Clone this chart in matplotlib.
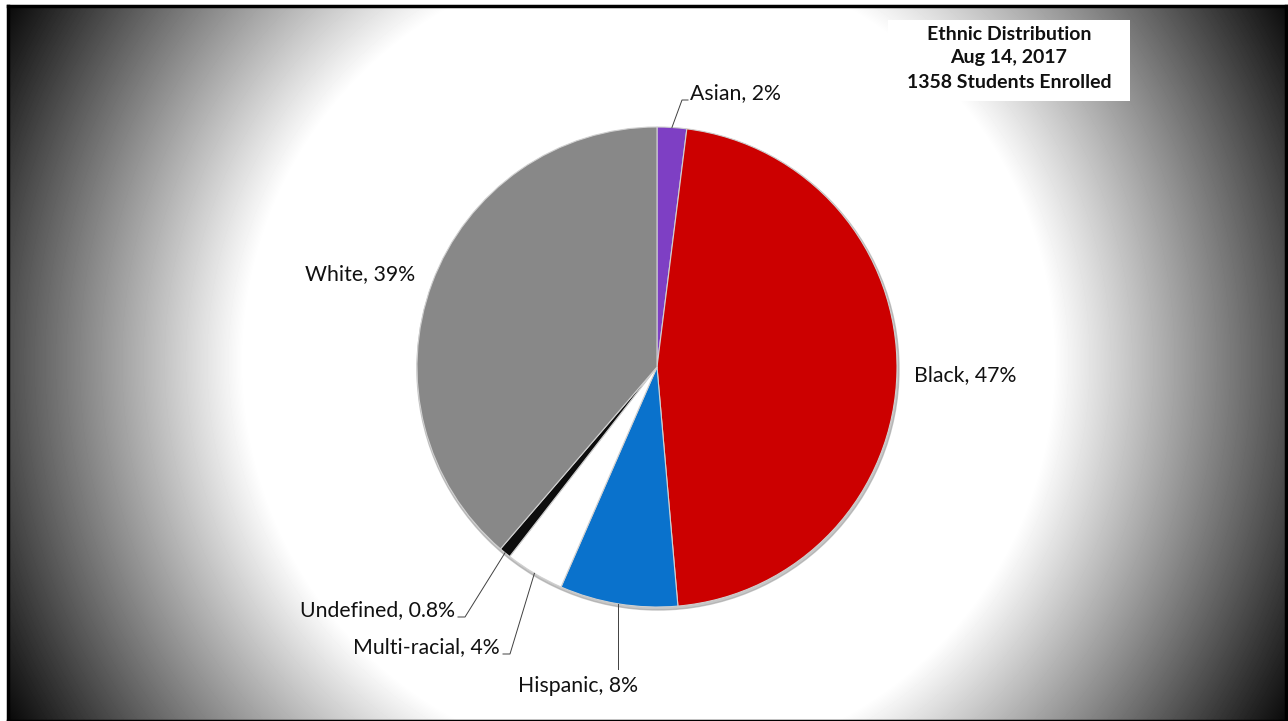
import numpy as np
import matplotlib
matplotlib.use('Agg')
import matplotlib.pyplot as plt
from matplotlib.patches import Rectangle, Circle

# data
groups = ['Asian', 'Black', 'Hispanic', 'Multi-racial', 'Undefined', 'White']
shares = [2, 47, 8, 4, 0.8, 39]
share_labels = ['2%', '47%', '8%', '4%', '0.8%', '39%']
colors = ['#7E3FC4', '#CC0000', '#0A72CC', '#FFFFFF', '#0D0D0D', '#888888']
title_lines = ['Ethnic Distribution', 'Aug 14, 2017', '1358 Students Enrolled']

W, H = 1288, 721
plt.rcParams['font.family'] = ['Lato', 'DejaVu Sans']

fig = plt.figure(figsize=(W / 100, H / 100), dpi=100, facecolor='white')

# radial white-to-black backdrop
bg = fig.add_axes([8 / W, 0, (W - 10) / W, 715 / H])
yy, xx = np.mgrid[0:715, 0:W - 10]
d = np.hypot(xx - 640, yy - 355)
shade = np.clip(1 - (d - 405) / 340.0, 0, 1)
bg.imshow(shade, cmap='gray', vmin=0, vmax=1, aspect='auto', interpolation='bilinear')
bg.set_xticks([]); bg.set_yticks([])
for s in bg.spines.values():
    s.set_linewidth(2.5)
    s.set_color('black')

ax = fig.add_axes([0, 0, 1, 1])

cx, cy, r = 657, 354, 240
# soft shadow behind the pie
ax.add_patch(Circle((cx + 1, cy - 2), r + 1, color='#a0a0a0', alpha=0.6, zorder=1))
wedges, _ = ax.pie(shares, colors=colors, startangle=90, counterclock=False,
                   center=(cx, cy), radius=r, frame=True,
                   wedgeprops=dict(edgecolor='#d0d0d0', linewidth=0.8))
for w in wedges:
    w.set_zorder(2)
ax.set_xlim(0, W)
ax.set_ylim(0, H)
ax.set_aspect('equal')
ax.axis('off')

def edge_point(w):
    a = np.deg2rad((w.theta1 + w.theta2) / 2)
    return cx + r * np.cos(a), cy + r * np.sin(a)

txt = dict(fontsize=15.3, color='#111111', va='center', zorder=5)
lead = dict(color='#404040', lw=0.7, zorder=4)

# Asian
x0, y0 = edge_point(wedges[0])
ax.plot([x0, 682, 688], [y0, 621, 621], **lead)
ax.text(690, 628, groups[0] + ', ' + share_labels[0], ha='left', **txt)
# Black
ax.text(914, 346, groups[1] + ', ' + share_labels[1], ha='left', **txt)
# Hispanic
x0, y0 = edge_point(wedges[2])
ax.plot([x0, x0], [y0, 52], **lead)
ax.text(578, 35, groups[2] + ', ' + share_labels[2], ha='center', **txt)
# Multi-racial
x0, y0 = edge_point(wedges[3])
ax.plot([x0, 510, 503], [y0, 67, 67], **lead)
ax.text(500, 74, groups[3] + ', ' + share_labels[3], ha='right', **txt)
# Undefined
x0, y0 = edge_point(wedges[4])
ax.plot([x0, 465, 458], [y0, 104, 104], **lead)
ax.text(455, 111, groups[4] + ', ' + share_labels[4], ha='right', **txt)
# White
ax.text(305, 447, groups[5] + ', ' + share_labels[5], ha='left', **txt)

# title box
ax.add_patch(Rectangle((888, 620), 242, 81, facecolor='white', edgecolor='none', zorder=4))
for i, line in enumerate(title_lines):
    ax.text(1009, 687 - 24 * i, line, ha='center', va='center', fontsize=14,
            fontweight='bold', color='#111111', zorder=5)

fig.savefig('out.png', dpi=100)
